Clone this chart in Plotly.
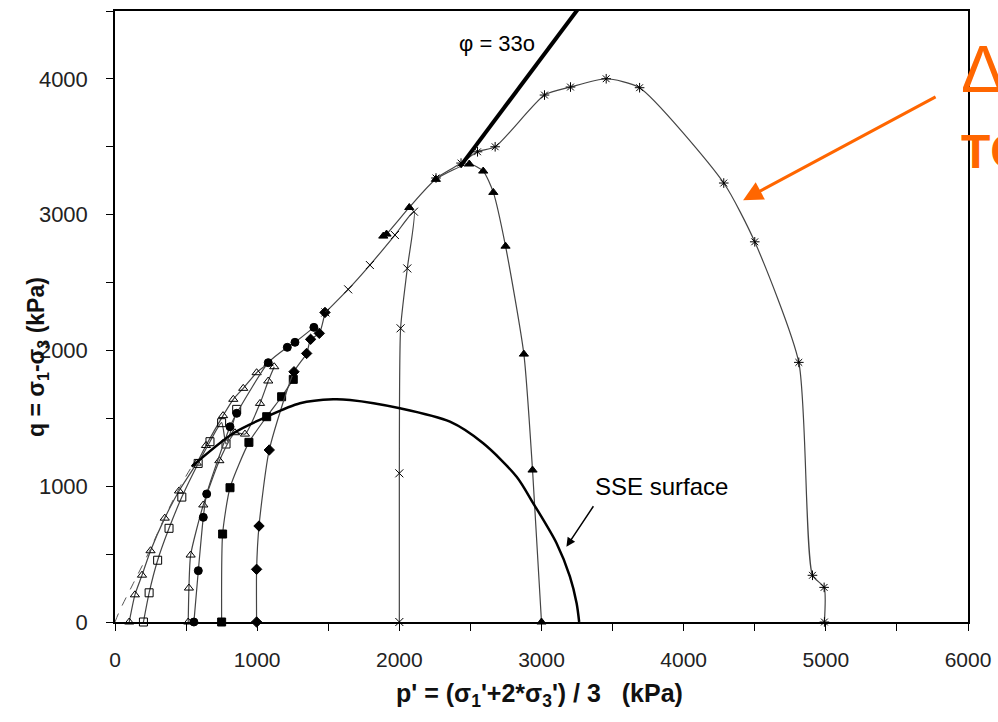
import plotly.graph_objects as go

# ---- data (p' in kPa, q in kPa) ----
tri100_p = [100, 140, 190, 250, 350, 450, 575, 640, 760, 832, 902, 996, 1080]
tri100_q = [0, 200, 345, 525, 765, 965, 1170, 1300, 1520, 1640, 1721, 1836, 1905]

sq200_p = [200, 240, 300, 380, 470, 585, 668, 750, 781, 856]
sq200_q = [0, 215, 455, 690, 920, 1168, 1328, 1468, 1311, 1566]

tri500_p = [515, 520, 532, 621, 734, 844, 914, 1020, 1078, 1120]
tri500_q = [0, 250, 493, 862, 1188, 1394, 1384, 1610, 1775, 1880]

circ550_p = [555, 586, 621, 645, 809, 856, 1078, 1212, 1266, 1399]
circ550_q = [0, 378, 771, 943, 1438, 1537, 1910, 2023, 2060, 2170]

sq750_p = [750, 757, 809, 942, 1067, 1172, 1254]
sq750_q = [0, 648, 989, 1323, 1512, 1659, 1787]

dia1000_p = [996, 996, 1013, 1085, 1259, 1348, 1376, 1437, 1477]
dia1000_q = [0, 388, 707, 1267, 1843, 1978, 2082, 2126, 2280]

x2000_p = [2000, 2000, 2009, 2056, 2103, 1969, 1793, 1640, 1480]
x2000_q = [0, 1095, 2163, 2604, 3022, 2850, 2629, 2450, 2280]

tri3000_p = [3000, 2937, 2876, 2747, 2661, 2590, 2492, 2257, 2070, 1910, 1887]
tri3000_q = [0, 1119, 1973, 2768, 3164, 3321, 3373, 3260, 3053, 2857, 2842]

ast5000_p = [4990, 4988, 4906, 4810, 4500, 4282, 3690, 3455, 3204, 3021, 2674, 2550, 2434, 2258]
ast5000_q = [0, 255, 344, 1912, 2800, 3233, 3935, 4001, 3940, 3881, 3500, 3463, 3380, 3270]

phi_p = [2426, 3275]
phi_q = [3352, 4540]

sse_p = [539, 832, 1067, 1301, 1535, 1653, 2004, 2356, 2590, 2825, 2942, 3106, 3200, 3247, 3265]
sse_q = [1144, 1390, 1512, 1611, 1640, 1635, 1574, 1475, 1316, 1070, 874, 580, 334, 138, 0]

sse_dash_p = [0, 35, 129, 246, 352, 457, 539]
sse_dash_q = [0, 88, 285, 530, 776, 996, 1144]

x_ticks = [0, 1000, 2000, 3000, 4000, 5000, 6000]
y_ticks = [0, 1000, 2000, 3000, 4000]

LINE = "#444444"
fig = go.Figure()

series = [
    (tri100_p, tri100_q, "triangle-up-open"),
    (sq200_p, sq200_q, "square-open"),
    (tri500_p, tri500_q, "triangle-up-open"),
    (circ550_p, circ550_q, "circle"),
    (sq750_p, sq750_q, "square"),
    (dia1000_p, dia1000_q, "diamond"),
    (x2000_p, x2000_q, "x-thin-open"),
    (tri3000_p, tri3000_q, "triangle-up"),
    (ast5000_p, ast5000_q, "asterisk-open"),
]
for p, q, sym in series:
    fig.add_trace(go.Scatter(
        x=p, y=q, mode="lines+markers",
        line=dict(color=LINE, width=1.2, shape="spline", smoothing=0.6),
        marker=dict(symbol=sym, size=8, color="black",
                    line=dict(color="black", width=1)),
        showlegend=False, cliponaxis=False))

fig.add_trace(go.Scatter(x=sse_dash_p, y=sse_dash_q, mode="lines",
                         line=dict(color="#555555", width=1, dash="dash", shape="spline"),
                         showlegend=False))
fig.add_trace(go.Scatter(x=sse_p, y=sse_q, mode="lines",
                         line=dict(color="black", width=2.5, shape="spline", smoothing=0.8),
                         showlegend=False))
fig.add_trace(go.Scatter(x=phi_p, y=phi_q, mode="lines",
                         line=dict(color="black", width=4),
                         showlegend=False))

fig.add_annotation(x=3175, y=554, ax=28, ay=-42, xref="x", yref="y",
                   showarrow=True, arrowhead=2, arrowsize=1.2, arrowwidth=1.5,
                   arrowcolor="black", text="")
fig.add_annotation(x=3842, y=1000, xref="x", yref="y", text="SSE surface",
                   showarrow=False, font=dict(family="Liberation Sans, Arial", size=24, color="black"))
fig.add_annotation(x=2690, y=4260, xref="x", yref="y", text="φ = 33o",
                   showarrow=False, font=dict(family="Liberation Sans, Arial", size=22, color="black"))

ORANGE = "#FF6600"
fig.add_annotation(x=4418, y=3107, ax=194, ay=-104, xref="x", yref="y",
                   showarrow=True, arrowhead=2, arrowsize=1.3, arrowwidth=3,
                   arrowcolor=ORANGE, text="")
fig.add_annotation(x=0.99, y=0.905, xref="paper", yref="paper", text="Δ",
                   xanchor="left", yanchor="middle", showarrow=False,
                   font=dict(family="Liberation Sans, Arial", size=66, color=ORANGE))
fig.add_annotation(x=0.99, y=0.77, xref="paper", yref="paper", text="<b>TC</b>",
                   xanchor="left", yanchor="middle", showarrow=False,
                   font=dict(family="Liberation Sans, Arial", size=48, color=ORANGE))

# axis titles
fig.add_annotation(x=0.498, y=-0.119, xref="paper", yref="paper",
                   text="<b>p' = (σ<sub>1</sub>'+2*σ<sub>3</sub>') / 3   (kPa)</b>",
                   showarrow=False, xanchor="center", yanchor="middle",
                   font=dict(family="Liberation Sans, Arial", size=25, color="#111111"))
fig.add_annotation(x=-0.09, y=0.434, xref="paper", yref="paper",
                   text="<b>q = σ<sub>1</sub>-σ<sub>3</sub> (kPa)</b>", textangle=-90,
                   showarrow=False, xanchor="center", yanchor="middle",
                   font=dict(family="Liberation Sans, Arial", size=23, color="#111111"))

fig.update_layout(
    width=998, height=722,
    margin=dict(l=115, r=30, t=11, b=100, autoexpand=False),
    paper_bgcolor="white", plot_bgcolor="white",
    hovermode=False,
    font=dict(family="Liberation Sans, Arial", color="#222222"),
)
fig.update_xaxes(
    range=[0, 6000], tickvals=x_ticks, ticktext=[str(v) for v in x_ticks],
    automargin=False,
    showline=True, linecolor="black", linewidth=1.5, mirror=True,
    ticks="outside", ticklen=7, tickcolor="black", ticklabelstandoff=11,
    minor=dict(dtick=500, ticks="outside", ticklen=7, tickcolor="black"),
    showgrid=False, zeroline=False,
    tickfont=dict(family="Liberation Sans, Arial", size=21, color="#222222"),
)
fig.update_yaxes(
    range=[0, 4500], tickvals=y_ticks, ticktext=[str(v) for v in y_ticks],
    automargin=False,
    showline=True, linecolor="black", linewidth=1.5, mirror=True,
    ticks="outside", ticklen=7, tickcolor="black", ticklabelstandoff=14,
    minor=dict(dtick=500, ticks="outside", ticklen=7, tickcolor="black"),
    showgrid=False, zeroline=False,
    tickfont=dict(family="Liberation Sans, Arial", size=22, color="#222222"),
)
fig.write_html("out.html", config={"displayModeBar": False},
               post_script="document.body.style.margin='0';document.body.style.overflow='hidden';")
